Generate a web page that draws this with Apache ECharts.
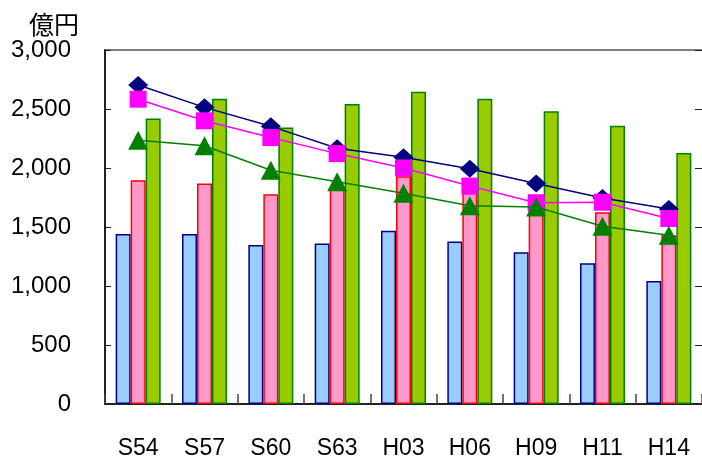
<!DOCTYPE html>
<html><head><meta charset="utf-8">
<script src="https://cdn.jsdelivr.net/npm/echarts@6/dist/echarts.min.js"></script>
<style>html,body{margin:0;padding:0;background:#fff}#c{width:702px;height:460px}</style>
</head><body><div id="c"></div>
<script>
var categories = ['S54','S57','S60','S63','H03','H06','H09','H11','H14'];
var barBlue  = [1440, 1440, 1347, 1361, 1469, 1378, 1286, 1192, 1042];
var barPink  = [1897, 1869, 1778, 1830, 1930, 1790, 1720, 1625, 1430];
var barGreen = [2419, 2586, 2344, 2542, 2647, 2586, 2480, 2358, 2128];
var lineNavy    = [2703, 2514, 2353, 2167, 2092, 1994, 1869, 1745, 1653];
var lineMagenta = [2583, 2400, 2258, 2122, 2000, 1847, 1706, 1710, 1572];
var lineGreen   = [2236, 2189, 1981, 1883, 1786, 1681, 1669, 1506, 1431];
var yTicks = [0, 500, 1000, 1500, 2000, 2500, 3000];

var FONT = '"Liberation Sans", Arial, sans-serif';
var CJK = '"Noto Sans CJK JP", sans-serif';
var chart = echarts.init(document.getElementById('c'), null, {renderer:'canvas'});
function fmt(v){ return v.toLocaleString('en-US'); }
var yMin = yTicks[0], yMax = yTicks[yTicks.length-1], yInt = yTicks[1]-yTicks[0];
var splitColors = yTicks.map(function(t, i){ return i === yTicks.length-1 ? '#808080' : 'rgba(0,0,0,0)'; });
chart.setOption({
  animation:false,
  backgroundColor:'#ffffff',
  title:{ text:'億円', left:24, top:7, textStyle:{ fontFamily:CJK, fontSize:25, fontWeight:'normal', color:'#000' } },
  grid:{ left:105, right:0, top:50, bottom:50, containLabel:false },
  xAxis:{
    type:'category', data:categories,
    axisLine:{ show:true, lineStyle:{ color:'#222', width:2 } },
    axisTick:{ show:true, inside:true, length:10, lineStyle:{ color:'#444', width:1.5 } },
    axisLabel:{ margin:33, fontFamily:FONT, fontSize:23, color:'#000' },
    splitLine:{ show:false }
  },
  yAxis:[{
    type:'value', min:yMin, max:yMax, interval:yInt,
    axisLine:{ show:true, lineStyle:{ color:'#222', width:2 } },
    axisTick:{ show:true, inside:true, length:6, lineStyle:{ color:'#222' } },
    axisLabel:{ margin:34, fontFamily:FONT, fontSize:24, color:'#000', formatter:fmt, padding:[6,0,0,0] },
    splitLine:{ show:true, lineStyle:{ color:splitColors, width:2 } }
  },{
    type:'value', position:'right', min:yMin, max:yMax, interval:yInt,
    axisLine:{ show:false },
    axisTick:{ show:true, inside:true, length:7, lineStyle:{ color:'#222' } },
    axisLabel:{ show:false },
    splitLine:{ show:false }
  }],
  series:[
    { type:'bar', data:barBlue, barGap:'0%', barWidth:15,
      itemStyle:{ color:'#99CCFF', borderColor:'#000080', borderWidth:1.5 } },
    { type:'bar', data:barPink, barGap:'0%', barWidth:15,
      itemStyle:{ color:'#FF99CC', borderColor:'#FF0000', borderWidth:1.5 } },
    { type:'bar', data:barGreen, barGap:'0%', barWidth:15,
      itemStyle:{ color:'#99CC00', borderColor:'#008000', borderWidth:1.5 } },
    { type:'line', data:lineNavy, symbol:'diamond', symbolSize:[20,18], z:5,
      lineStyle:{ color:'#000080', width:1.5 }, itemStyle:{ color:'#000080' } },
    { type:'line', data:lineMagenta, symbol:'rect', symbolSize:17, z:6,
      lineStyle:{ color:'#FF00FF', width:1.5 }, itemStyle:{ color:'#FF00FF' } },
    { type:'line', data:lineGreen, symbol:'triangle', symbolSize:[20,19], z:7,
      lineStyle:{ color:'#008000', width:1.5 }, itemStyle:{ color:'#008000' } }
  ]
});
</script></body></html>
